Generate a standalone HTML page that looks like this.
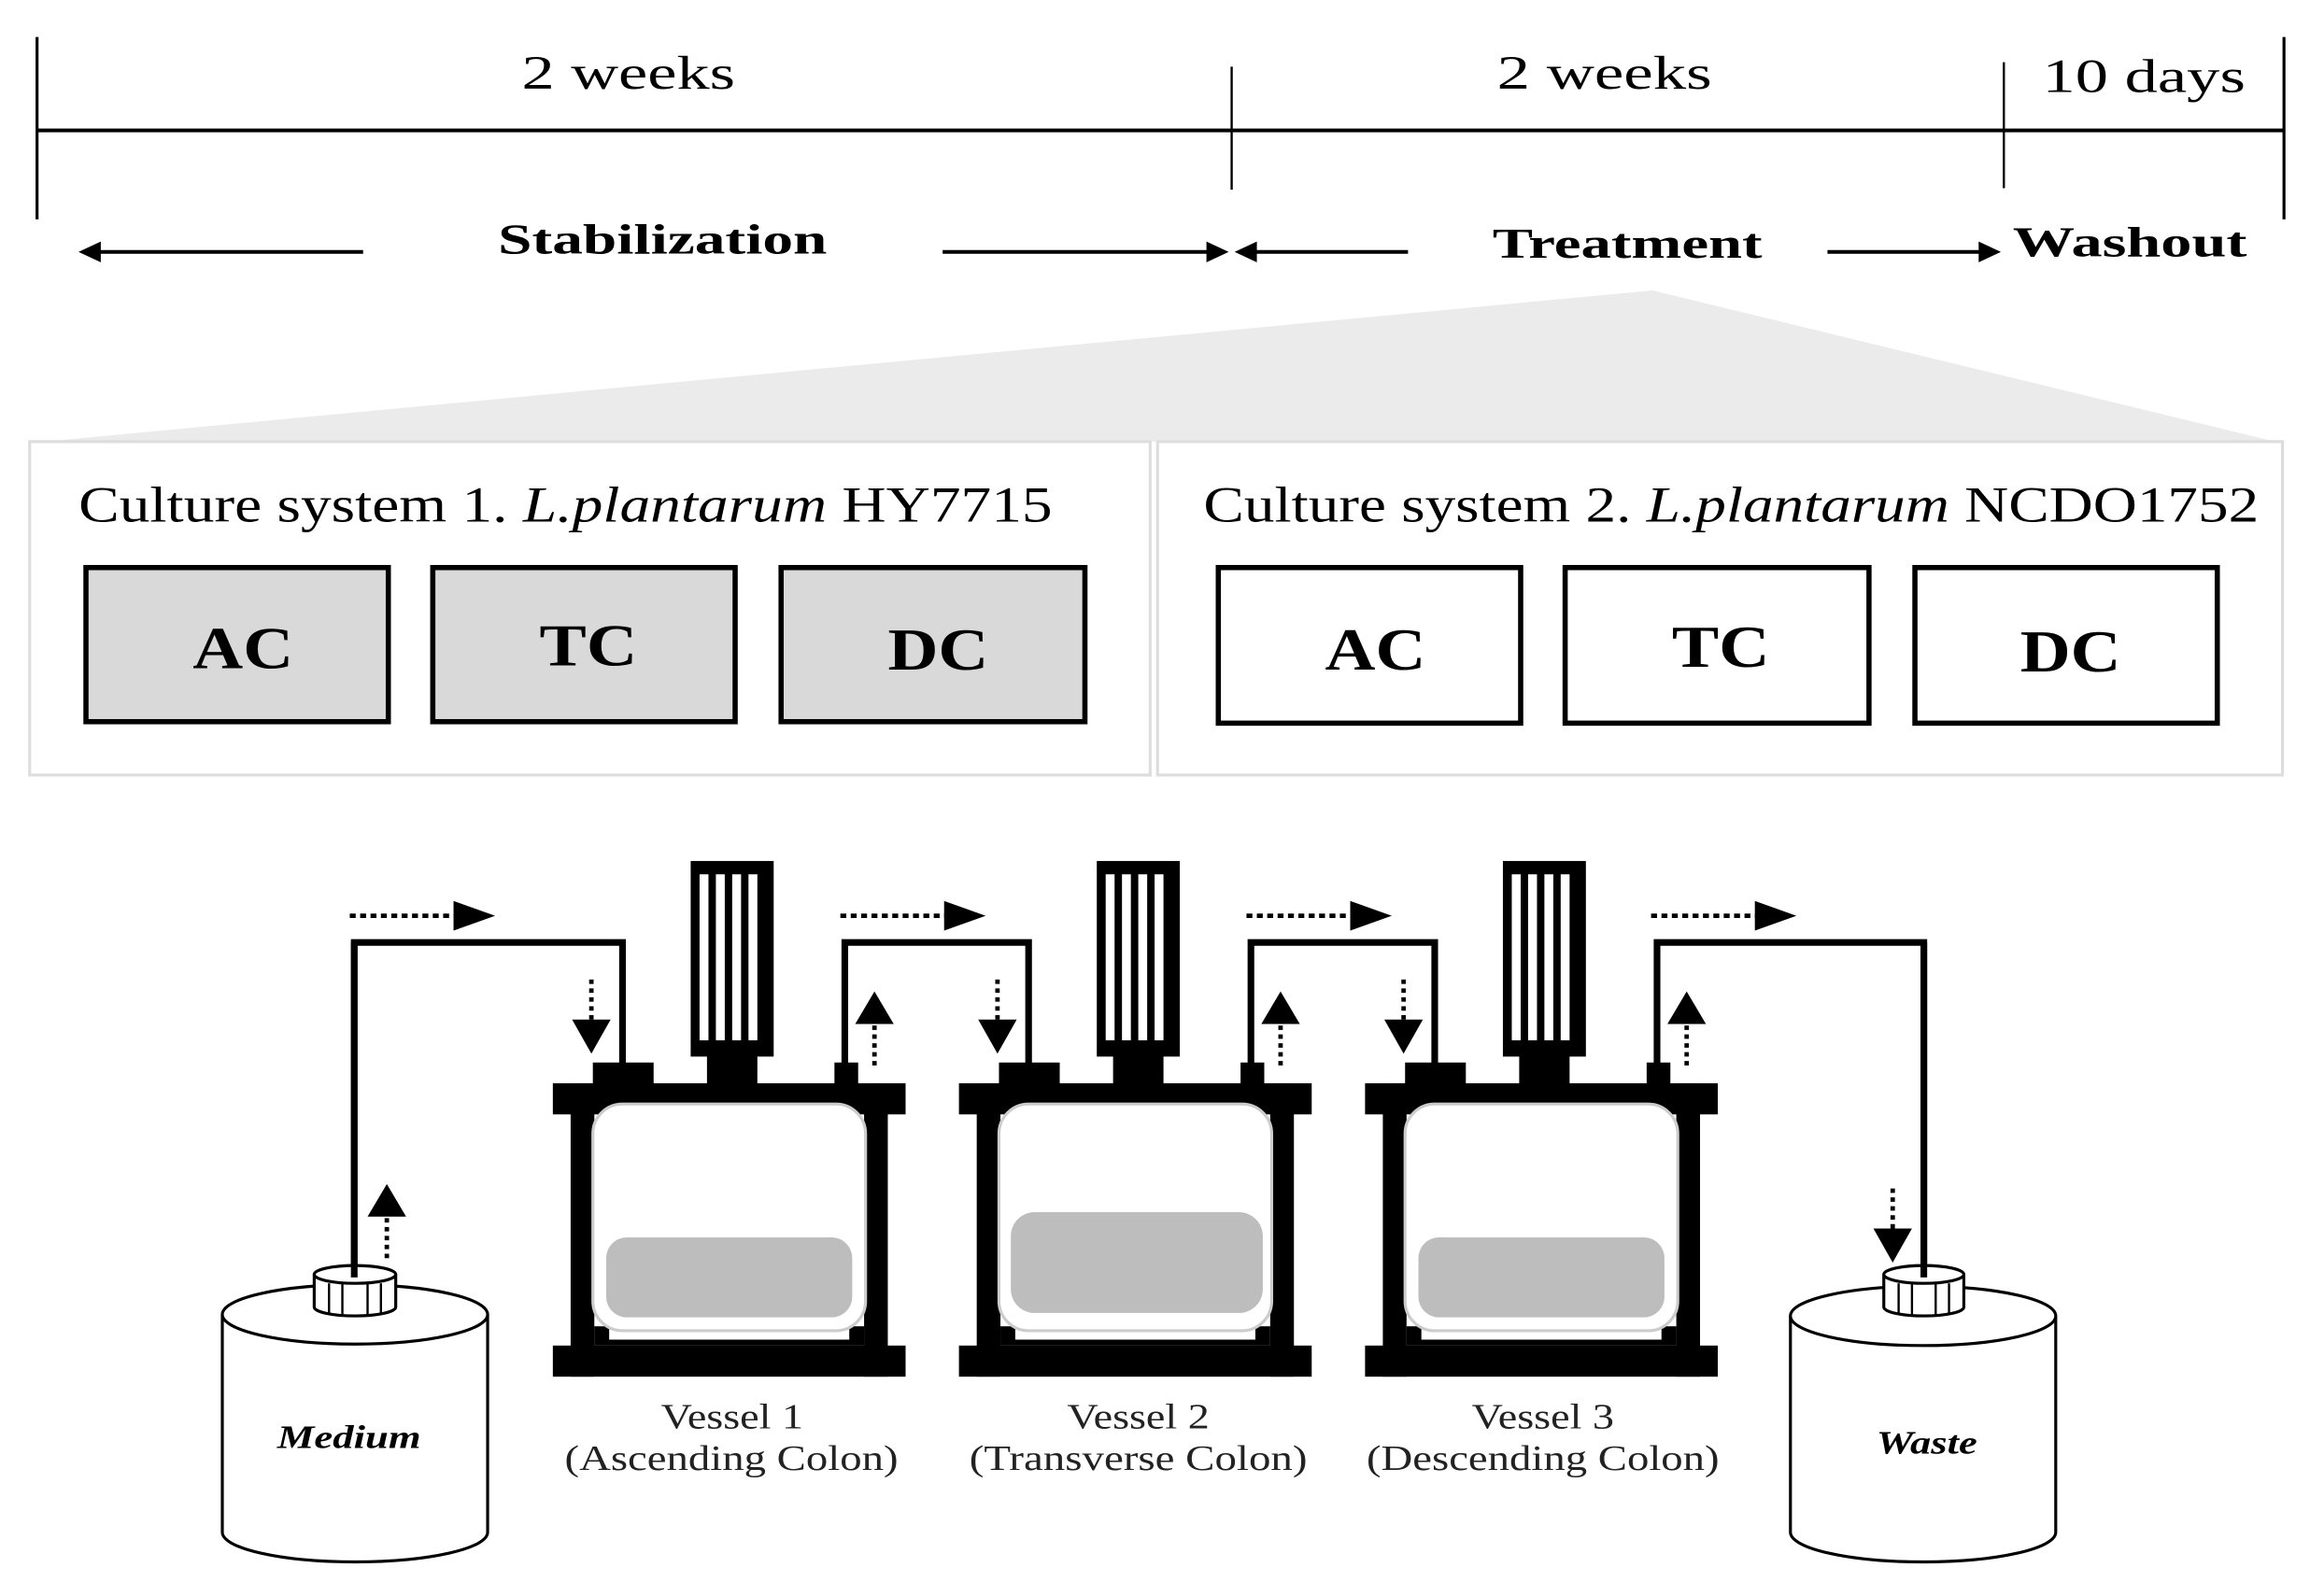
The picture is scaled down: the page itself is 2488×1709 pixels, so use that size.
<!DOCTYPE html>
<html><head><meta charset="utf-8"><style>
html,body{margin:0;padding:0;background:#fff}
svg{display:block}
text{font-family:"Liberation Serif",serif}
</style></head><body>
<svg width="2488" height="1709" viewBox="0 0 1568 1077" preserveAspectRatio="none" xmlns="http://www.w3.org/2000/svg">
<defs>
<g id="vessel">
  <rect x="466" y="581" width="56" height="132" fill="#000"/>
  <rect x="472" y="590" width="6" height="112" fill="#fff"/>
  <rect x="483" y="590" width="6" height="112" fill="#fff"/>
  <rect x="494" y="590" width="6" height="112" fill="#fff"/>
  <rect x="505" y="590" width="6" height="112" fill="#fff"/>
  <rect x="477" y="711" width="34" height="22" fill="#000"/>
  <rect x="400" y="717" width="41" height="16" fill="#000"/>
  <rect x="563" y="717" width="16" height="16" fill="#000"/>
  <rect x="373" y="731" width="238" height="21" fill="#000"/>
  <rect x="385" y="731" width="16" height="198" fill="#000"/>
  <rect x="583" y="731" width="16" height="198" fill="#000"/>
  <rect x="373" y="908" width="238" height="21" fill="#000"/>
  <rect x="401" y="895" width="182" height="13" fill="#000"/>
  <rect x="411" y="895" width="162" height="9" fill="#fff"/>
  <rect x="400" y="745" width="184" height="153" rx="20" fill="#fff" stroke="#ccc" stroke-width="2"/>
</g>
<g id="dash-down">
  <line x1="0" y1="0" x2="0" y2="30" stroke="#000" stroke-width="3" stroke-dasharray="3 3"/>
  <polygon points="-13,27 13,27 0,50" fill="#000"/>
</g>
<g id="dash-up">
  <line x1="0" y1="50" x2="0" y2="20" stroke="#000" stroke-width="3" stroke-dasharray="3 3"/>
  <polygon points="-13,22 13,22 0,0" fill="#000"/>
</g>
<g id="dash-right">
  <line x1="0" y1="0" x2="72" y2="0" stroke="#000" stroke-width="3" stroke-dasharray="4 3"/>
  <polygon points="70,-10 70,10 98,0" fill="#000"/>
</g>
</defs>

<line x1="25" y1="88" x2="1541" y2="88" stroke="#000" stroke-width="2.5"/>
<line x1="25" y1="25" x2="25" y2="148" stroke="#000" stroke-width="2"/>
<line x1="831" y1="45" x2="831" y2="128" stroke="#000" stroke-width="1.5"/>
<line x1="1352" y1="42" x2="1352" y2="127" stroke="#000" stroke-width="1.5"/>
<line x1="1541" y1="25" x2="1541" y2="148" stroke="#000" stroke-width="2"/>
<g lengthAdjust="spacingAndGlyphs">
<text x="352" y="60" font-size="32" textLength="144" lengthAdjust="spacingAndGlyphs">2 weeks</text>
<text x="1010" y="60" font-size="32" textLength="145" lengthAdjust="spacingAndGlyphs">2 weeks</text>
<text x="1378" y="62" font-size="32" textLength="137" lengthAdjust="spacingAndGlyphs">10 days</text>
<text x="336" y="171" font-size="29" font-weight="bold" textLength="222" lengthAdjust="spacingAndGlyphs">Stabilization</text>
<text x="1007" y="174" font-size="29" font-weight="bold" textLength="182" lengthAdjust="spacingAndGlyphs">Treatment</text>
<text x="1358" y="173" font-size="29" font-weight="bold" textLength="158" lengthAdjust="spacingAndGlyphs">Washout</text>
</g>
<g stroke="#000" stroke-width="2.5" fill="#000">
  <line x1="62" y1="170" x2="245" y2="170"/><polygon points="53,170 68,163 68,177" stroke="none"/>
  <line x1="636" y1="170" x2="820" y2="170"/><polygon points="829,170 814,163 814,177" stroke="none"/>
  <line x1="842" y1="170" x2="950" y2="170"/><polygon points="833,170 848,163 848,177" stroke="none"/>
  <line x1="1233" y1="170" x2="1340" y2="170"/><polygon points="1350,170 1335,163 1335,177" stroke="none"/>
</g>

<polygon points="1115,196 1535,298 30,298" fill="#ebebeb"/>

<rect x="20" y="298" width="756" height="225" fill="#fff" stroke="#ddd" stroke-width="2"/>
<rect x="781" y="298" width="759" height="225" fill="#fff" stroke="#ddd" stroke-width="2"/>
<text x="53" y="352" font-size="34" textLength="657" lengthAdjust="spacingAndGlyphs">Culture system 1. <tspan font-style="italic">L.plantarum</tspan> HY7715</text>
<text x="812" y="352" font-size="34" textLength="712" lengthAdjust="spacingAndGlyphs">Culture system 2. <tspan font-style="italic">L.plantarum</tspan> NCDO1752</text>
<g stroke="#000" stroke-width="3.5">
  <rect x="58" y="383" width="204" height="104" fill="#d9d9d9"/>
  <rect x="292" y="383" width="204" height="104" fill="#d9d9d9"/>
  <rect x="527" y="383" width="205" height="104" fill="#d9d9d9"/>
  <rect x="822" y="383" width="204" height="105" fill="#fff"/>
  <rect x="1056" y="383" width="205" height="105" fill="#fff"/>
  <rect x="1292" y="383" width="204" height="105" fill="#fff"/>
</g>
<g font-size="40" font-weight="bold">
  <text x="130" y="451" textLength="68" lengthAdjust="spacingAndGlyphs">AC</text>
  <text x="364" y="449" textLength="66" lengthAdjust="spacingAndGlyphs">TC</text>
  <text x="599" y="452" textLength="68" lengthAdjust="spacingAndGlyphs">DC</text>
  <text x="894" y="452" textLength="68" lengthAdjust="spacingAndGlyphs">AC</text>
  <text x="1128" y="450" textLength="66" lengthAdjust="spacingAndGlyphs">TC</text>
  <text x="1363" y="453" textLength="68" lengthAdjust="spacingAndGlyphs">DC</text>
</g>

<use href="#vessel"/>
<use href="#vessel" x="274"/>
<use href="#vessel" x="548"/>
<rect x="409" y="835" width="166" height="54" rx="14" fill="#bdbdbd"/>
<rect x="682" y="818" width="170" height="68" rx="16" fill="#bdbdbd"/>
<rect x="957" y="835" width="166" height="54" rx="14" fill="#bdbdbd"/>

<g fill="none" stroke="#000" stroke-width="4.5">
  <polyline points="239,860 239,636 420,636 420,718"/>
  <polyline points="570,718 570,636 694,636 694,718"/>
  <polyline points="844,718 844,636 968,636 968,718"/>
  <polyline points="1118,718 1118,636 1298,636 1298,860"/>
</g>

<g fill="#fff" stroke="#000" stroke-width="2">
  <path d="M150,887 L150,1034 A89.5,20 0 0 0 329,1034 L329,887"/>
  <ellipse cx="239.5" cy="887" rx="89.5" ry="20"/>
  <path d="M212,860 L212,882 A27.5,6 0 0 0 267,882 L267,860"/>
  <ellipse cx="239.5" cy="860" rx="27.5" ry="6"/>
  <path d="M1208,888 L1208,1034 A89.5,20 0 0 0 1387,1034 L1387,888"/>
  <ellipse cx="1297.5" cy="888" rx="89.5" ry="20"/>
  <path d="M1271,860 L1271,882 A27,6 0 0 0 1325,882 L1325,860"/>
  <ellipse cx="1298" cy="860" rx="27" ry="6"/>
</g>
<g stroke="#000" stroke-width="1.5">
  <line x1="222" y1="866" x2="222" y2="886"/><line x1="231" y1="866" x2="231" y2="887"/><line x1="248" y1="866" x2="248" y2="887"/><line x1="257" y1="866" x2="257" y2="886"/>
  <line x1="1281" y1="866" x2="1281" y2="886"/><line x1="1290" y1="866" x2="1290" y2="887"/><line x1="1306" y1="866" x2="1306" y2="887"/><line x1="1315" y1="866" x2="1315" y2="886"/>
</g>
<line x1="239" y1="636" x2="239" y2="862" stroke="#000" stroke-width="4.5"/>
<line x1="1298" y1="636" x2="1298" y2="862" stroke="#000" stroke-width="4.5"/>
<text x="187" y="977" font-size="22" font-weight="bold" font-style="italic" textLength="97" lengthAdjust="spacingAndGlyphs">Medium</text>
<text x="1266" y="981" font-size="22" font-weight="bold" font-style="italic" textLength="68" lengthAdjust="spacingAndGlyphs">Waste</text>

<use href="#dash-right" x="236" y="618"/>
<use href="#dash-right" x="567" y="618"/>
<use href="#dash-right" x="841" y="618"/>
<use href="#dash-right" x="1114" y="618"/>
<use href="#dash-down" x="399" y="661"/>
<use href="#dash-down" x="673" y="661"/>
<use href="#dash-down" x="947" y="661"/>
<use href="#dash-down" x="1277" y="802"/>
<use href="#dash-up" x="590" y="669"/>
<use href="#dash-up" x="864" y="669"/>
<use href="#dash-up" x="1138" y="669"/>
<use href="#dash-up" x="261" y="799"/>

<g font-size="24" fill="#222">
  <text x="446" y="964" textLength="96" lengthAdjust="spacingAndGlyphs">Vessel 1</text>
  <text x="381" y="992" textLength="225" lengthAdjust="spacingAndGlyphs">(Ascending Colon)</text>
  <text x="720" y="964" textLength="96" lengthAdjust="spacingAndGlyphs">Vessel 2</text>
  <text x="654" y="992" textLength="228" lengthAdjust="spacingAndGlyphs">(Transverse Colon)</text>
  <text x="993" y="964" textLength="96" lengthAdjust="spacingAndGlyphs">Vessel 3</text>
  <text x="922" y="992" textLength="238" lengthAdjust="spacingAndGlyphs">(Descending Colon)</text>
</g>
</svg>
</body></html>
